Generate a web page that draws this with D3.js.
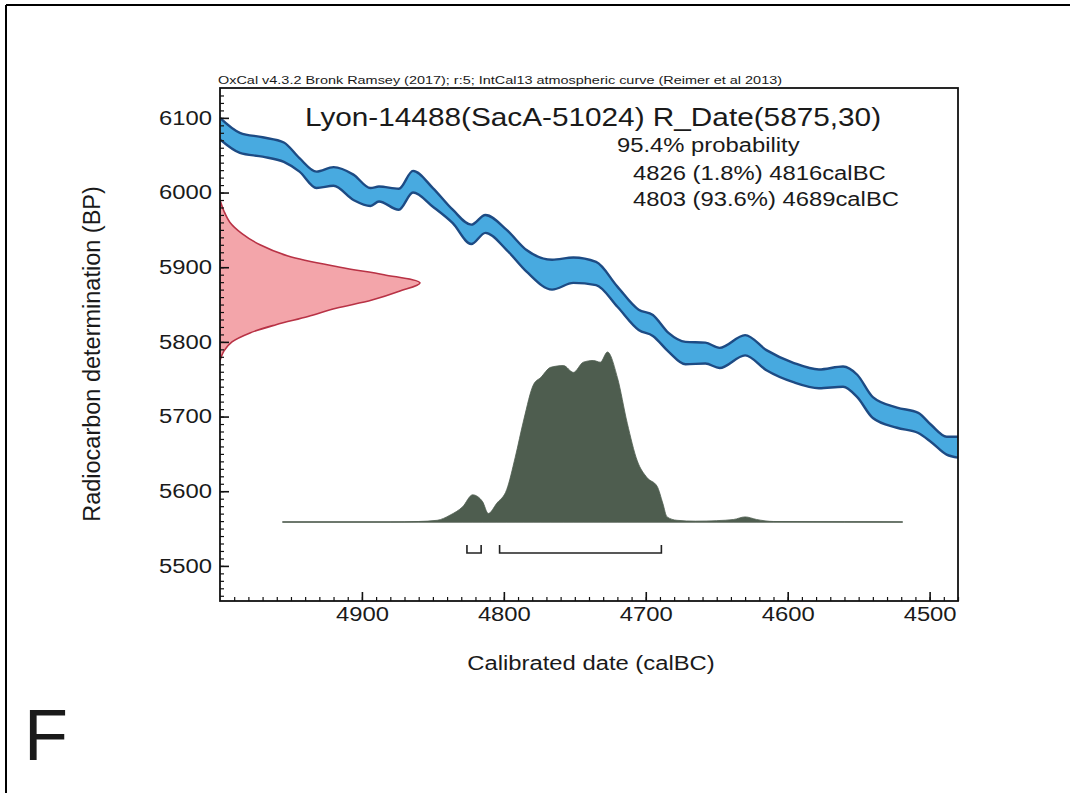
<!DOCTYPE html>
<html><head><meta charset="utf-8">
<script src="https://cdn.jsdelivr.net/npm/d3@7/dist/d3.min.js"></script>
<style>
body{margin:0;background:#fff}
svg{display:block}
text{font-family:"Liberation Sans",Arial,sans-serif;fill:#1a1a1a}
</style>
</head><body>
<svg id="chart" width="1070" height="793"></svg>
<script>
// ---- data ----
const curveYears = [5000,4986,4970,4955,4944,4932,4920,4906,4894,4888,4874,4864,4850,4836,4823,4813,4798,4784,4766,4751,4735,4720,4705,4695,4684,4672,4658,4648,4630,4615,4596,4578,4561,4551,4540,4523,4508,4499,4488,4480];
const curveUpper = [6100,6080,6074,6067,6046,6028,6034,6024,6006,6008,6005,6029,6006,5977,5957,5970,5950,5923,5910,5913,5907,5874,5843,5836,5812,5800,5799,5792,5809,5789,5772,5763,5767,5756,5726,5712,5705,5689,5673,5673];
const curveLower = [6071,6053,6048,6041,6028,6006,6009,5990,5982,5988,5977,6000,5981,5959,5931,5946,5923,5894,5870,5879,5876,5847,5816,5808,5787,5770,5771,5765,5782,5762,5746,5738,5740,5726,5698,5685,5678,5666,5649,5645];

const dateBP   = [5990,5975,5960,5945,5930,5915,5900,5890,5879,5868,5856,5845,5834,5823,5812,5800,5788,5775];
const dateProb = [0,0.02,0.05,0.11,0.2,0.34,0.6,0.82,1.0,0.9,0.76,0.58,0.44,0.28,0.15,0.06,0.02,0];

const postYears = [4956,4880,4860,4847,4838,4829,4822,4815,4811,4805,4798,4792,4786,4779,4774,4767,4758,4751,4744,4737,4732,4727,4720,4713,4706,4699,4692,4688,4685,4678,4665,4650,4638,4630,4622,4610,4560,4519];
const postProb  = [0,0,0.003,0.01,0.04,0.09,0.16,0.12,0.05,0.11,0.19,0.38,0.6,0.81,0.85,0.91,0.92,0.88,0.94,0.95,0.94,1.0,0.85,0.58,0.36,0.26,0.21,0.11,0.03,0.01,0.005,0.008,0.015,0.03,0.015,0.003,0.001,0];

const rangeFrom = [4826,4803];
const rangeTo   = [4816,4689];

const xTicks = [4900,4800,4700,4600,4500];
const yTicks = [5500,5600,5700,5800,5900,6000,6100];

const titleText = "Lyon-14488(SacA-51024) R_Date(5875,30)";
const subtitleText = "OxCal v4.3.2 Bronk Ramsey (2017); r:5; IntCal13 atmospheric curve (Reimer et al 2013)";
const probLines = ["95.4% probability","4826 (1.8%) 4816calBC","4803 (93.6%) 4689calBC"];
const xTitle = "Calibrated date (calBC)";
const yTitle = "Radiocarbon determination (BP)";
const panelLabel = "F";

// ---- layout ----
const L = 220, R = 958, T = 88, B = 601;
const STRETCH = 1.19;
const svg = d3.select("#chart");

const x = d3.scaleLinear().domain([5000,4480]).range([L,R]);
const y = d3.scaleLinear().domain([5453,6140]).range([B,T]);
const dScale = d3.scaleLinear().domain([0,1]).range([L,420]);
const pScale = d3.scaleLinear().domain([0,1]).range([522,352]);

function stretch(sel){ sel.each(function(){ const w=this.getComputedTextLength(); this.setAttribute("textLength", w*STRETCH); this.setAttribute("lengthAdjust","spacingAndGlyphs"); }); return sel; }

// page border (top + left)
svg.append("line").attr("x1",6).attr("y1",5).attr("x2",1070).attr("y2",5).attr("stroke","#000").attr("stroke-width",2);
svg.append("line").attr("x1",6).attr("y1",5).attr("x2",6).attr("y2",793).attr("stroke","#000").attr("stroke-width",2);

const clip = svg.append("defs").append("clipPath").attr("id","plotclip");
clip.append("rect").attr("x",L).attr("y",T).attr("width",R-L).attr("height",B-T);
const plot = svg.append("g").attr("clip-path","url(#plotclip)");

// calibration curve band
const curveData = curveYears.map((d,i)=>({yr:d, hi:curveUpper[i], lo:curveLower[i]}));
const band = d3.area().x(d=>x(d.yr)).y0(d=>y(d.lo)).y1(d=>y(d.hi)).curve(d3.curveMonotoneX);
plot.append("path").datum(curveData).attr("d",band).attr("fill","#48aae0").attr("stroke","none");
const upLine = d3.line().x(d=>x(d.yr)).y(d=>y(d.hi)).curve(d3.curveMonotoneX);
const loLine = d3.line().x(d=>x(d.yr)).y(d=>y(d.lo)).curve(d3.curveMonotoneX);
plot.append("path").datum(curveData).attr("d",upLine).attr("fill","none").attr("stroke","#1d4b84").attr("stroke-width",2.4);
plot.append("path").datum(curveData).attr("d",loLine).attr("fill","none").attr("stroke","#1d4b84").attr("stroke-width",2.4);

// radiocarbon date distribution (red, on y axis)
const dateData = dateBP.map((d,i)=>({bp:d, p:dateProb[i]}));
const dArea = d3.area().y(d=>y(d.bp)).x0(dScale(0)).x1(d=>dScale(d.p)).curve(d3.curveCatmullRom.alpha(0.5));
plot.append("path").datum(dateData).attr("d",dArea).attr("fill","#f3a5aa").attr("stroke","#b83245").attr("stroke-width",1.6);

// posterior (calibrated) distribution
const postData = postYears.map((d,i)=>({yr:d, p:postProb[i]}));
const pArea = d3.area().x(d=>x(d.yr)).y0(pScale(0)).y1(d=>pScale(d.p)).curve(d3.curveMonotoneX);
plot.append("line").attr("x1",x(postYears[0])).attr("x2",x(postYears[postYears.length-1]))
  .attr("y1",pScale(0)).attr("y2",pScale(0)).attr("stroke","#8a8f8a").attr("stroke-width",1.5);
plot.append("path").datum(postData).attr("d",pArea).attr("fill","#4e5d4f").attr("stroke","#4e5d4f").attr("stroke-width",0.8);

// range brackets
rangeFrom.forEach((f,i)=>{
  const t = rangeTo[i];
  svg.append("path")
    .attr("d",`M${x(f)},545 L${x(f)},553 L${x(t)},553 L${x(t)},545`)
    .attr("fill","none").attr("stroke","#222").attr("stroke-width",1.6);
});

// axes
const xMinor = d3.range(4990,4479,-10);
const yMinor = d3.range(5460,6140,10);
svg.append("g").attr("transform",`translate(0,${B})`)
  .call(d3.axisBottom(x).tickValues(xMinor).tickSizeInner(-4).tickSizeOuter(0).tickFormat(""))
  .call(g=>g.select(".domain").remove()).selectAll("line").attr("stroke","#111").attr("stroke-width",1.2);
svg.append("g").attr("transform",`translate(${L},0)`)
  .call(d3.axisLeft(y).tickValues(yMinor).tickSizeInner(-4).tickSizeOuter(0).tickFormat(""))
  .call(g=>g.select(".domain").remove()).selectAll("line").attr("stroke","#111").attr("stroke-width",1.2);

const xAx = svg.append("g").attr("transform",`translate(0,${B})`)
  .call(d3.axisBottom(x).tickValues(xTicks).tickSizeInner(-9).tickSizeOuter(0).tickPadding(6).tickFormat(d3.format("d")));
xAx.select(".domain").remove();
xAx.selectAll("line").attr("stroke","#111").attr("stroke-width",1.6);
xAx.selectAll("text").attr("font-size",20).attr("fill","#1a1a1a").attr("font-family",null).call(stretch);

const yAx = svg.append("g").attr("transform",`translate(${L},0)`)
  .call(d3.axisLeft(y).tickValues(yTicks).tickSizeInner(-9).tickSizeOuter(0).tickPadding(8).tickFormat(d3.format("d")));
yAx.select(".domain").remove();
yAx.selectAll("line").attr("stroke","#111").attr("stroke-width",1.6);
yAx.selectAll("text").attr("font-size",20).attr("fill","#1a1a1a").attr("font-family",null).call(stretch);

// frame
svg.append("rect").attr("x",L).attr("y",T).attr("width",R-L).attr("height",B-T)
  .attr("fill","none").attr("stroke","#111").attr("stroke-width",1.8);

// texts
svg.append("text").attr("x",218).attr("y",84).attr("font-size",11.5).text(subtitleText)
  .attr("textLength",564).attr("lengthAdjust","spacingAndGlyphs");
svg.append("text").attr("x",593).attr("y",126).attr("text-anchor","middle").attr("font-size",25).text(titleText).call(stretch);
svg.append("text").attr("x",617).attr("y",152).attr("font-size",20).text(probLines[0]).call(stretch);
svg.append("text").attr("x",633).attr("y",180).attr("font-size",20).text(probLines[1]).call(stretch);
svg.append("text").attr("x",633).attr("y",206).attr("font-size",20).text(probLines[2]).call(stretch);

svg.append("text").attr("x",591).attr("y",670).attr("text-anchor","middle").attr("font-size",20).text(xTitle).call(stretch);
svg.append("text").attr("transform","translate(100,354) rotate(-90)").attr("text-anchor","middle").attr("font-size",23.5).text(yTitle);

svg.append("text").attr("x",24).attr("y",760).attr("font-size",72).text(panelLabel);
</script>
</body></html>
